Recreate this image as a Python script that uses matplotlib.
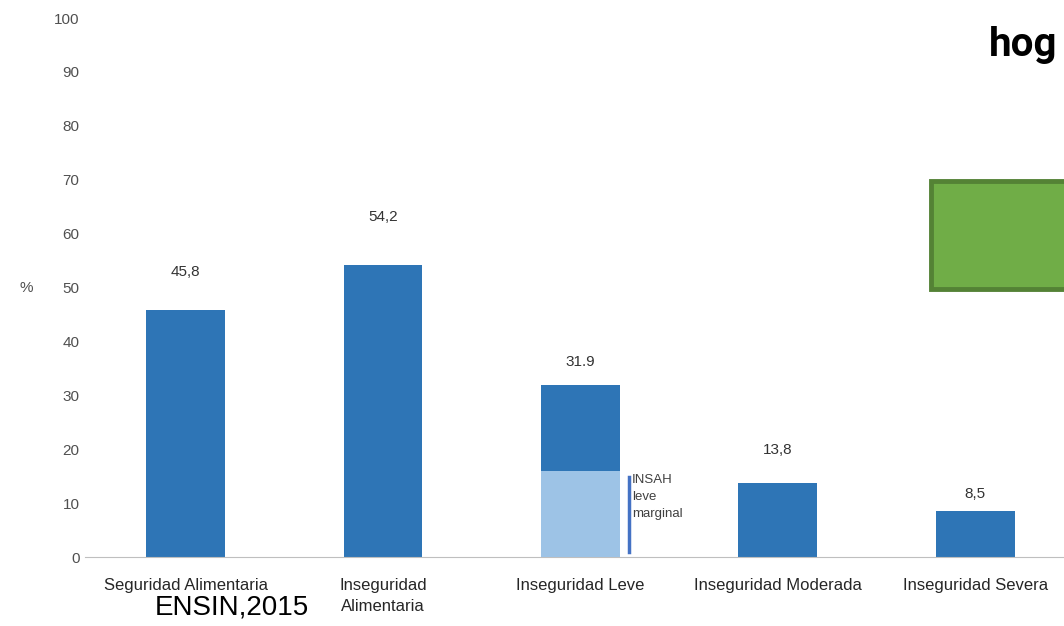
import matplotlib
matplotlib.use('Agg')
import matplotlib.pyplot as plt
from matplotlib.patches import Rectangle

# Data
categories = ['Seguridad Alimentaria', 'Inseguridad\nAlimentaria', 'Inseguridad Leve',
              'Inseguridad Moderada', 'Inseguridad Severa']
values = [45.8, 54.2, 31.9, 13.8, 8.5]
value_labels = ['45,8', '54,2', '31.9', '13,8', '8,5']
leve_marginal = 16.0
y_ticks = [0, 10, 20, 30, 40, 50, 60, 70, 80, 90, 100]

font = 'Liberation Sans'
dark_blue = '#2E75B6'
light_blue = '#9DC3E6'

fig = plt.figure(figsize=(10.64, 6.26), dpi=100)
ax = fig.add_axes([0.0799, 0.1102, 0.920, 0.861])

x = list(range(len(categories)))
ax.bar(x, values, width=0.4, color=dark_blue, zorder=2)
# light part of Inseguridad Leve
ax.bar([2], [leve_marginal], width=0.4, color=light_blue, zorder=3)

# label offsets as placed in the source chart
offsets = [7.1, 8.9, 4.3, 6.1, 3.2]
for xi, v, lab, off in zip(x, values, value_labels, offsets):
    ax.text(xi, v + off, lab, ha='center', va='center', fontsize=11,
            color='#333333', family=font)

# INSAH bracket
ax.plot([2.248, 2.248], [1.0, 14.8], color='#4472C4', lw=2.5, zorder=3)
ax.text(2.262, 15.4, 'INSAH\nleve\nmarginal', ha='left', va='top', fontsize=9.5,
        color='#404040', family=font, linespacing=1.55)

ax.set_xlim(-0.51, 4.45)
ax.set_ylim(0, 100)
ax.set_yticks(y_ticks)
ax.set_yticklabels([str(t) for t in y_ticks], family=font, fontsize=11, color='#505050')
ax.set_xticks(x)
ax.set_xticklabels(categories, family=font, fontsize=12, color='#262626',
                   va='top', linespacing=1.5)
ax.tick_params(axis='both', length=0)
ax.tick_params(axis='y', pad=4)
ax.tick_params(axis='x', pad=15)
for s in ['top', 'right', 'left']:
    ax.spines[s].set_visible(False)
ax.spines['bottom'].set_color('#bfbfbf')

fig.text(20 / 1064, 1 - 288 / 626, '%', ha='left', va='center', fontsize=11,
         color='#505050', family=font)
fig.text(232 / 1064, 1 - 607 / 626, 'ENSIN,2015', ha='center', va='center',
         fontsize=20, color='black', family=font)
fig.text(989 / 1064, 1 - 45 / 626, 'hog', ha='left', va='center', fontsize=29,
         fontweight='bold', color='black', family='Roboto')

# green box
fig.patches.append(Rectangle((931 / 1064, 1 - 289 / 626), 140 / 1064, 108 / 626,
                             transform=fig.transFigure, facecolor='#70AD47',
                             edgecolor='#548235', linewidth=3.5, zorder=5))

fig.savefig('out.png', dpi=100)
